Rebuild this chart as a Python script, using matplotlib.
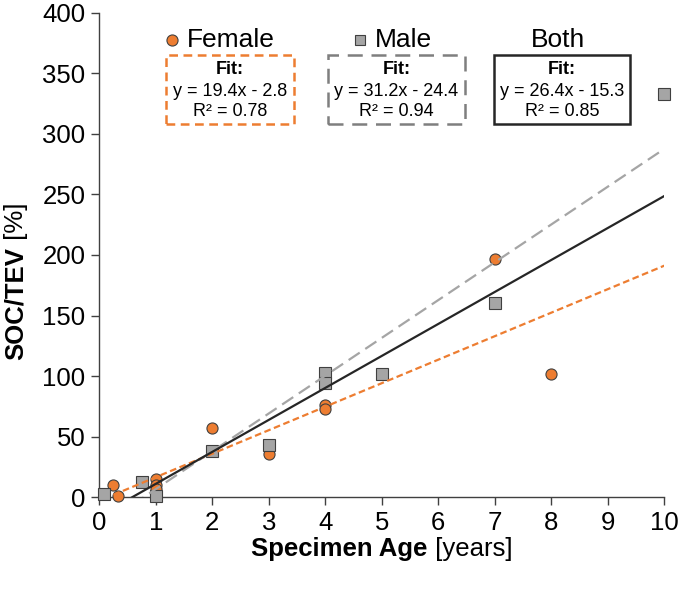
import numpy as np
import matplotlib
matplotlib.use('Agg')
import matplotlib.pyplot as plt
from matplotlib.patches import Rectangle

plt.rcParams['font.family'] = ['Liberation Sans', 'DejaVu Sans']

female_x = [0.25, 0.33, 1, 1, 1, 2, 3, 4, 4, 7, 8]
female_y = [10, 1, 15, 10, 7, 57, 36, 76, 73, 197, 102]
male_x = [0.08, 0.75, 1, 2, 3, 4, 4, 5, 7, 10]
male_y = [3, 13, 1, 38, 43, 103, 94, 102, 160, 333]

# fit parameters (slope, intercept, r2) as printed on the chart
fits = {
    'Female': (19.4, -2.8, 0.78),
    'Male': (31.2, -24.4, 0.94),
    'Both': (26.4, -15.3, 0.85),
}

orange = '#ED7D31'
grey = '#A5A5A5'
dark = '#262626'

W, H = 680, 589
fig = plt.figure(figsize=(W / 100, H / 100), dpi=100)
ax = fig.add_axes([99.3 / W, 1 - 497.3 / H, (664.3 - 99.3) / W, (497.3 - 12.7) / H])

ax.plot(female_x, female_y, 'o', ms=8, mfc=orange, mec='#404040', mew=0.8, zorder=3, clip_on=False)
ax.plot(male_x, male_y, 's', ms=8, mfc=grey, mec='#404040', mew=0.8, zorder=3, clip_on=False)

xs = np.array([min(female_x), 10])
m, b, _ = fits['Female']
ax.plot(xs, m * xs + b, color=orange, lw=1.6, dashes=(3, 1.6), zorder=4)
xs = np.array([0, 10])
m, b, _ = fits['Male']
ax.plot(xs, m * xs + b, color=grey, lw=1.6, dashes=(6, 3), zorder=4)
m, b, _ = fits['Both']
ax.plot(xs, m * xs + b, color=dark, lw=1.6, zorder=4)

ax.set_xlim(0, 10)
ax.set_ylim(0, 400)
ax.set_xticks(range(0, 11))
ax.set_yticks(range(0, 401, 50))
for s in ['top', 'right']:
    ax.spines[s].set_visible(False)
for s in ['left', 'bottom']:
    ax.spines[s].set_color('#404040')
    ax.spines[s].set_linewidth(1.0)
ax.tick_params(direction='out', length=6, width=1.0, color='#404040', labelsize=18.5, pad=4)


def fx(px):
    return px / W


def fy(py):
    return 1 - py / H


# axis labels: bold part + regular part, centred together
r = fig.canvas.get_renderer()
t1 = fig.text(0, fy(549), 'Specimen Age', fontsize=18.5, fontweight='bold', ha='left', va='center')
t2 = fig.text(0, fy(549), ' [years]', fontsize=18.5, ha='left', va='center')
w1 = t1.get_window_extent(r).width
w2 = t2.get_window_extent(r).width
start = 0.5 * (99.3 + 664.3) - 0.5 * (w1 + w2)
t1.set_x(fx(start))
t2.set_x(fx(start + w1))

fig.text(fx(16), fy(247), 'SOC/TEV', fontsize=18.5, fontweight='bold',
         rotation=90, ha='center', va='top')
fig.text(fx(16), fy(247), ' [%]', fontsize=18.5, rotation=90, ha='center', va='bottom')

boxes = [
    ('Female', 166, 294, orange, (0, (3.5, 2.2)), 'o', orange),
    ('Male', 328, 465, '#7F7F7F', (0, (6, 3.5)), 's', grey),
    ('Both', 494, 630, dark, '-', None, None),
]
for name, x0, x1, ec, ls, mk, mc in boxes:
    m, b, r2 = fits[name]
    fig.patches.append(Rectangle((fx(x0), fy(124)), fx(x1 - x0), (124 - 55) / H,
                                 transform=fig.transFigure, fill=False, ec=ec,
                                 lw=1.8, ls=ls))
    cx = fx(0.5 * (x0 + x1))
    sign = '-' if b < 0 else '+'
    fig.text(cx, fy(70), 'Fit:', fontsize=13, fontweight='bold', ha='center', va='center')
    fig.text(cx, fy(91), f'y = {m}x {sign} {abs(b)}', fontsize=13, ha='center', va='center')
    fig.text(cx, fy(111), f'R² = {r2}', fontsize=13, ha='center', va='center')
    if mk is None:
        fig.text(cx - fx(4), fy(40), name, fontsize=19, ha='center', va='center')
    else:
        lx = 172 if name == 'Female' else 360
        fig.lines.append(plt.Line2D([fx(lx)], [fy(40)], marker=mk, ms=8 if mk == 'o' else 7,
                                    mfc=mc, mec='#404040', mew=0.8, transform=fig.transFigure))
        fig.text(fx(lx + 15), fy(40), name, fontsize=19, ha='left', va='center')

fig.savefig('out.png', dpi=100)
